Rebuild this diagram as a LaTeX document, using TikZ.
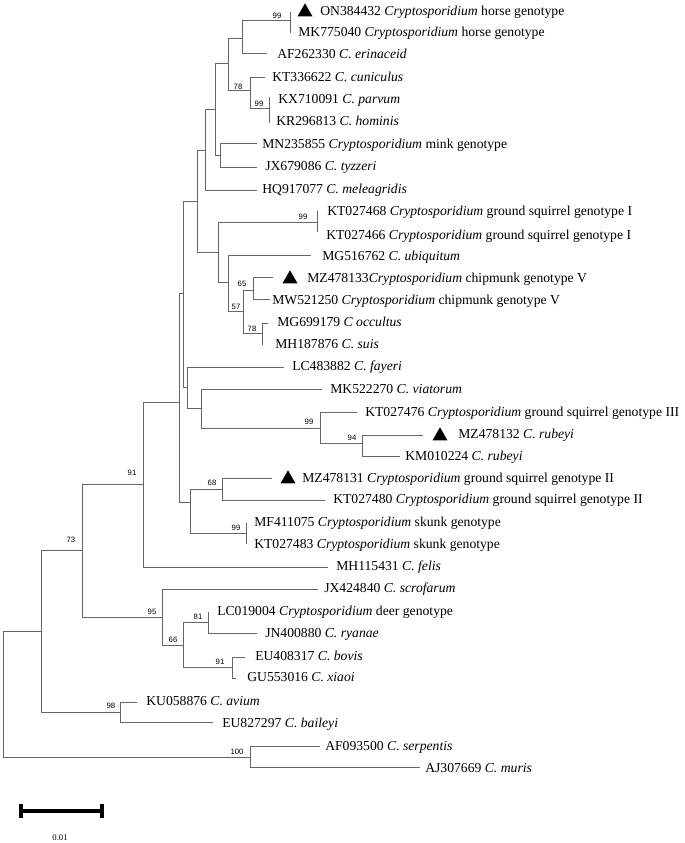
\documentclass[tikz,border=0pt]{standalone}
\usepackage{fontspec}
\setmainfont{Liberation Serif}
\newfontfamily\bootfont{Liberation Sans}
\usetikzlibrary{shapes.geometric}

\begin{document}
\begin{tikzpicture}[x=0.75pt,y=-0.75pt,
    branch/.style={draw=black!60,line width=0.6pt},
    leaf/.style={anchor=west,inner sep=0pt,text height=0.7em,text depth=0.22em,
      font=\fontsize{10.25}{12}\selectfont},
    boot/.style={inner sep=0pt,font=\bootfont\fontsize{5.8}{6}\selectfont},
    tri/.style={regular polygon,regular polygon sides=3,fill=black,
      inner sep=0pt,minimum size=13pt}]
    \useasboundingbox (0,0) rectangle (685,843);

    % internal nodes
    \coordinate (R) at (3,694);
    \coordinate (A) at (41,631);
    \coordinate (N73) at (82,550);
    \coordinate (N91) at (143,484);
    \coordinate (B) at (179,402);
    \coordinate (C) at (183,293);
    \coordinate (E) at (197,201);
    \coordinate (G) at (205,150);
    \coordinate (I) at (215,109);
    \coordinate (J) at (228,63);
    \coordinate (L) at (242,38);
    \coordinate (N99a) at (290,20);
    \coordinate (N78a) at (250,90);
    \coordinate (N99b) at (269,108);
    \coordinate (K) at (220,155);
    \coordinate (H) at (218,252);
    \coordinate (N99c) at (317,222);
    \coordinate (M) at (228,282);
    \coordinate (N57) at (243,311);
    \coordinate (N65) at (253,290);
    \coordinate (N78b) at (262,333);
    \coordinate (F) at (187,387);
    \coordinate (P) at (201,408);
    \coordinate (N99d) at (320,428);
    \coordinate (N94) at (362,443);
    \coordinate (D) at (190,502);
    \coordinate (N68) at (222,489);
    \coordinate (N99e) at (246,533);
    \coordinate (N95) at (162,617);
    \coordinate (N66) at (183,645);
    \coordinate (N81) at (208,622);
    \coordinate (N91b) at (232,667);
    \coordinate (N98) at (120,712);
    \coordinate (N100) at (250,757);

    % leaf ends
    \coordinate (ON) at (290,12);
    \coordinate (MK) at (290,33);
    \coordinate (AF) at (267,53);
    \coordinate (KTcun) at (265,77);
    \coordinate (KX) at (269,97);
    \coordinate (KR) at (269,123);
    \coordinate (MN) at (257,143);
    \coordinate (JXtyz) at (257,167);
    \coordinate (HQ) at (257,190);
    \coordinate (KTgsa) at (317,211);
    \coordinate (KTgsb) at (317,232);
    \coordinate (MG) at (311,255);
    \coordinate (MZch) at (273,277);
    \coordinate (MW) at (270,299);
    \coordinate (MGocc) at (268,323);
    \coordinate (MH) at (262,345);
    \coordinate (LC) at (284,367);
    \coordinate (MKvia) at (322,389);
    \coordinate (KTgs3) at (357,412);
    \coordinate (MZrub) at (423,435);
    \coordinate (KM) at (400,456);
    \coordinate (MZgs2) at (272,478);
    \coordinate (KTgs2) at (325,500);
    \coordinate (MF) at (246,523);
    \coordinate (KTsk) at (246,544);
    \coordinate (MHfel) at (328,567);
    \coordinate (JXscr) at (318,589);
    \coordinate (LCdeer) at (208,612);
    \coordinate (JN) at (257,633);
    \coordinate (EU) at (245,657);
    \coordinate (GU) at (236,678);
    \coordinate (KU) at (137,702);
    \coordinate (EUbai) at (213,722);
    \coordinate (AFser) at (320,746);
    \coordinate (AJ) at (420,767);

    % branches
    \draw[branch] (R) |- (A) (R) |- (N100);
    \draw[branch] (A) |- (N73) (A) |- (N98);
    \draw[branch] (N73) |- (N91) (N73) |- (N95);
    \draw[branch] (N91) |- (B) (N91) |- (MHfel);
    \draw[branch] (B) |- (C) (B) |- (D);
    \draw[branch] (C) |- (E) (C) |- (F);
    \draw[branch] (E) |- (G) (E) |- (H);
    \draw[branch] (G) |- (I) (G) |- (HQ);
    \draw[branch] (I) |- (J) (I) |- (K);
    \draw[branch] (J) |- (L) (J) |- (N78a);
    \draw[branch] (L) |- (N99a) (L) |- (AF);
    \draw[branch] (N99a) |- (ON) (N99a) |- (MK);
    \draw[branch] (N78a) |- (KTcun) (N78a) |- (N99b);
    \draw[branch] (N99b) |- (KX) (N99b) |- (KR);
    \draw[branch] (K) |- (MN) (K) |- (JXtyz);
    \draw[branch] (H) |- (N99c) (H) |- (M);
    \draw[branch] (N99c) |- (KTgsa) (N99c) |- (KTgsb);
    \draw[branch] (M) |- (MG) (M) |- (N57);
    \draw[branch] (N57) |- (N65) (N57) |- (N78b);
    \draw[branch] (N65) |- (MZch) (N65) |- (MW);
    \draw[branch] (N78b) |- (MGocc) (N78b) |- (MH);
    \draw[branch] (F) |- (LC) (F) |- (P);
    \draw[branch] (P) |- (MKvia) (P) |- (N99d);
    \draw[branch] (N99d) |- (KTgs3) (N99d) |- (N94);
    \draw[branch] (N94) |- (MZrub) (N94) |- (KM);
    \draw[branch] (D) |- (N68) (D) |- (N99e);
    \draw[branch] (N68) |- (MZgs2) (N68) |- (KTgs2);
    \draw[branch] (N99e) |- (MF) (N99e) |- (KTsk);
    \draw[branch] (N95) |- (JXscr) (N95) |- (N66);
    \draw[branch] (N66) |- (N81) (N66) |- (N91b);
    \draw[branch] (N81) |- (LCdeer) (N81) |- (JN);
    \draw[branch] (N91b) |- (EU) (N91b) |- (GU);
    \draw[branch] (N98) |- (KU) (N98) |- (EUbai);
    \draw[branch] (N100) |- (AFser) (N100) |- (AJ);

    % bootstrap values
    \node[boot] (b1) at (277,16) {99};
    \node[boot] (b2) at (238,87) {78};
    \node[boot] (b3) at (259,104) {99};
    \node[boot] (b4) at (303,217) {99};
    \node[boot] (b5) at (242,284) {65};
    \node[boot] (b6) at (236,307) {57};
    \node[boot] (b7) at (252,329) {78};
    \node[boot] (b8) at (309,422) {99};
    \node[boot] (b9) at (352,438) {94};
    \node[boot] (b10) at (132,473) {91};
    \node[boot] (b11) at (212,483) {68};
    \node[boot] (b12) at (236,528) {99};
    \node[boot] (b13) at (71,540) {73};
    \node[boot] (b14) at (152,612) {95};
    \node[boot] (b15) at (173,640) {66};
    \node[boot] (b16) at (198,617) {81};
    \node[boot] (b17) at (220,662) {91};
    \node[boot] (b18) at (111,706) {98};
    \node[boot] (b19) at (237,752) {100};

    % new sequences
    \node[tri] (t1) at (305,12) {};
    \node[tri] (t2) at (290,279) {};
    \node[tri] (t3) at (440,436) {};
    \node[tri] (t4) at (288,479) {};

    % taxa
    \node[leaf] (tON) at (320,12) {ON384432 \textit{Cryptosporidium} horse genotype};
    \node[leaf] (tMK) at (298,33) {MK775040 \textit{Cryptosporidium} horse genotype};
    \node[leaf] (tAF) at (277,55) {AF262330 \textit{C. erinaceid}};
    \node[leaf] (tKTcun) at (272,78) {KT336622 \textit{C. cuniculus}};
    \node[leaf] (tKX) at (278,100) {KX710091 \textit{C. parvum}};
    \node[leaf] (tKR) at (276,122) {KR296813 \textit{C. hominis}};
    \node[leaf] (tMN) at (262,145) {MN235855 \textit{Cryptosporidium} mink genotype};
    \node[leaf] (tJXtyz) at (265,167) {JX679086 \textit{C. tyzzeri}};
    \node[leaf] (tHQ) at (262,190) {HQ917077 \textit{C. meleagridis}};
    \node[leaf] (tKTgsa) at (327,212) {KT027468 \textit{Cryptosporidium} ground squirrel genotype I};
    \node[leaf] (tKTgsb) at (326,236) {KT027466 \textit{Cryptosporidium} ground squirrel genotype I};
    \node[leaf] (tMG) at (322,257) {MG516762 \textit{C. ubiquitum}};
    \node[leaf] (tMZch) at (307,279) {MZ478133\textit{Cryptosporidium} chipmunk genotype V};
    \node[leaf] (tMW) at (272,301) {MW521250 \textit{Cryptosporidium} chipmunk genotype V};
    \node[leaf] (tMGocc) at (277,323) {MG699179 \textit{C occultus}};
    \node[leaf] (tMH) at (275,345) {MH187876 \textit{C. suis}};
    \node[leaf] (tLC) at (292,367) {LC483882 \textit{C. fayeri}};
    \node[leaf] (tMKvia) at (330,390) {MK522270 \textit{C. viatorum}};
    \node[leaf] (tKTgs3) at (365,413) {KT027476 \textit{Cryptosporidium} ground squirrel genotype III};
    \node[leaf] (tMZrub) at (458,435) {MZ478132 \textit{C. rubeyi}};
    \node[leaf] (tKM) at (405,457) {KM010224 \textit{C. rubeyi}};
    \node[leaf] (tMZgs2) at (302,479) {MZ478131 \textit{Cryptosporidium} ground squirrel genotype II};
    \node[leaf] (tKTgs2) at (333,500) {KT027480 \textit{Cryptosporidium} ground squirrel genotype II};
    \node[leaf] (tMF) at (254,523) {MF411075 \textit{Cryptosporidium} skunk genotype};
    \node[leaf] (tKTsk) at (254,545) {KT027483 \textit{Cryptosporidium} skunk genotype};
    \node[leaf] (tMHfel) at (336,567) {MH115431 \textit{C. felis}};
    \node[leaf] (tJXscr) at (324,589) {JX424840 \textit{C. scrofarum}};
    \node[leaf] (tLCdeer) at (217,612) {LC019004 \textit{Cryptosporidium} deer genotype};
    \node[leaf] (tJN) at (265,634) {JN400880 \textit{C. ryanae}};
    \node[leaf] (tEU) at (255,657) {EU408317 \textit{C. bovis}};
    \node[leaf] (tGU) at (247,678) {GU553016 \textit{C. xiaoi}};
    \node[leaf] (tKU) at (146,702) {KU058876 \textit{C. avium}};
    \node[leaf] (tEUbai) at (222,724) {EU827297 \textit{C. baileyi}};
    \node[leaf] (tAFser) at (325,747) {AF093500 \textit{C. serpentis}};
    \node[leaf] (tAJ) at (425,769) {AJ307669 \textit{C. muris}};

    % scale bar
    \coordinate (sbL) at (21,811);
    \coordinate (sbR) at (102,811);
    \draw[line width=3pt] (sbL) -- (sbR);
    \draw[line width=3pt] (21,804) -- (21,818);
    \draw[line width=3pt] (102,804) -- (102,818);
    \node[inner sep=0pt,font=\fontsize{6.5}{7}\selectfont] (sbl) at (60,838) {0.01};
\end{tikzpicture}
\end{document}
